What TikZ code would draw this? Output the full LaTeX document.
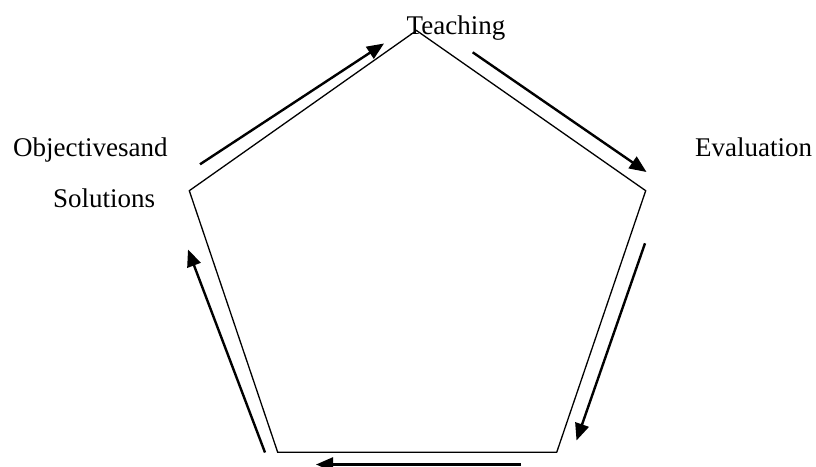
\documentclass[tikz,border=0pt]{standalone}
\usepackage{fontspec}
\setmainfont{Liberation Serif}
\usetikzlibrary{arrows.meta}
\begin{document}
\begin{tikzpicture}[x=1pt,y=-1pt,
  edge/.style={line width=1.3pt},
  flow/.style={line width=2.4pt,-{Triangle[length=17pt,width=14pt]}},
  lbl/.style={anchor=base west,inner sep=0pt,font=\fontsize{27}{32}\selectfont}]
\useasboundingbox (0,0) rectangle (816,466);
\clip (0,0) rectangle (816,466);
% pentagon vertices
\coordinate (T) at (416.5,30.5);
\coordinate (R) at (645.7,190.7);
\coordinate (BR) at (556.7,452.3);
\coordinate (BL) at (277.7,452.3);
\coordinate (L) at (189.3,190.7);
\draw[edge,line join=miter] (T) -- (R) -- (BR) -- (BL) -- (L) -- cycle;
% labels
\node[lbl] (teach) at (406.5,34.5) {Teaching};
\node[lbl] (obj) at (13,156.7) {Objectivesand};
\node[lbl] (sol) at (53,207.3) {Solutions};
\node[lbl] (eval) at (695,156.7) {Evaluation};
% arrow endpoints
\coordinate (a1s) at (200,164.3);
\coordinate (a1e) at (384,43.5);
\coordinate (a2s) at (472.7,52.3);
\coordinate (a2e) at (646.5,172);
\coordinate (a3s) at (645,243.3);
\coordinate (a3e) at (576.5,440.5);
\coordinate (a4s) at (521,464.5);
\coordinate (a4e) at (316,464.5);
\coordinate (a5s) at (265,452.5);
\coordinate (a5e) at (188,249.5);
\draw[flow] (a1s) -- (a1e);
\draw[flow] (a2s) -- (a2e);
\draw[flow] (a3s) -- (a3e);
\draw[flow] (a4s) -- (a4e);
\draw[flow] (a5s) -- (a5e);
\end{tikzpicture}
\end{document}
